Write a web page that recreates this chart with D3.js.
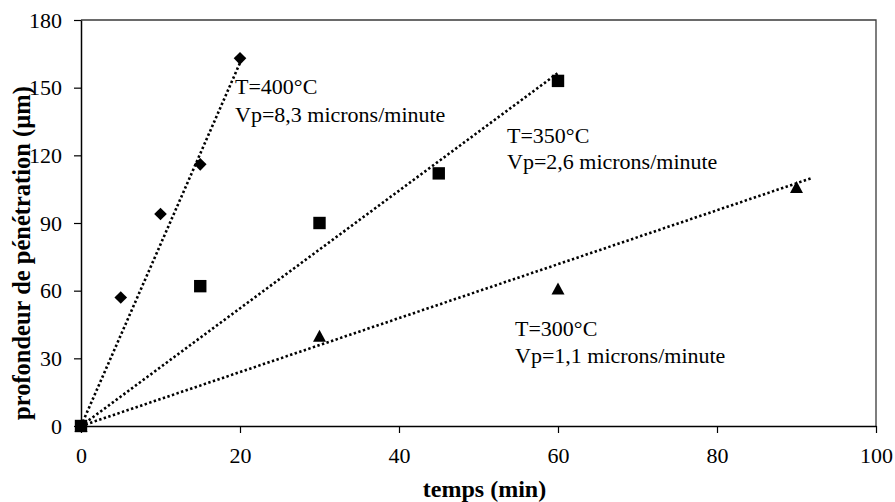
<!DOCTYPE html>
<html><head><meta charset="utf-8">
<script src="https://cdn.jsdelivr.net/npm/d3@7"></script>
<style>
html,body{margin:0;padding:0;background:#fff;}
text{font-family:"Liberation Serif","Times New Roman",serif;fill:#000;}
</style></head>
<body>
<svg id="chart" width="895" height="502"></svg>
<script>
// ---- data ----
const xTicks = [0, 20, 40, 60, 80, 100];
const yTicks = [0, 30, 60, 90, 120, 150, 180];

const time400 = [0, 5, 10, 15, 20];
const depth400 = [0, 57, 94, 116, 163];
const time350 = [0, 15, 30, 45, 60];
const depth350 = [0, 62, 90, 112, 153];
const time300 = [0, 30, 60, 90];
const depth300 = [0, 40, 61, 106];

// linear trend lines (through origin), start/end
const trendX400 = [0, 20], trendY400 = [0, 161];
const trendX350 = [0, 60], trendY350 = [0, 156.5];
const trendX300 = [0, 92], trendY300 = [0, 110];

const labels400 = ["T=400°C", "Vp=8,3 microns/minute"];
const labels350 = ["T=350°C", "Vp=2,6 microns/minute"];
const labels300 = ["T=300°C", "Vp=1,1 microns/minute"];
const xTitle = "temps (min)";
const yTitle = "profondeur de pénétration (µm)";

// ---- drawing ----
const svg = d3.select("#chart");
const L = 81, R = 876, T = 20, B = 426;
const x = d3.scaleLinear().domain([0, 100]).range([L, R]);
const y = d3.scaleLinear().domain([0, 180]).range([B, T]);

// frame (top/right)
svg.append("path")
  .attr("d", `M${L},${T}H${R}V${B}`)
  .attr("fill", "none").attr("stroke", "#3a3a3a").attr("stroke-width", 1.3);

const fs = 22;
const xAxis = svg.append("g").attr("transform", `translate(0,${B})`)
  .call(d3.axisBottom(x).tickValues(xTicks).tickSizeInner(7).tickSizeOuter(0).tickPadding(14).tickFormat(d3.format("d")));
const yAxis = svg.append("g").attr("transform", `translate(${L},0)`)
  .call(d3.axisLeft(y).tickValues(yTicks).tickSizeInner(7).tickSizeOuter(0).tickPadding(12).tickFormat(d3.format("d")));
[xAxis, yAxis].forEach(g => {
  g.select(".domain").attr("stroke", "#000").attr("stroke-width", 1.5);
  g.selectAll(".tick line").attr("stroke", "#000").attr("stroke-width", 1.2);
  g.selectAll(".tick text").style("font-family", '"Liberation Serif", serif').style("font-size", fs + "px").attr("fill", "#000");
});

// trend lines
const line = d3.line().x(d => x(d[0])).y(d => y(d[1]));
[[trendX400, trendY400], [trendX350, trendY350], [trendX300, trendY300]].forEach(([xs, ys]) => {
  svg.append("path")
    .attr("d", line(xs.map((v, i) => [v, ys[i]])))
    .attr("fill", "none").attr("stroke", "#000").attr("stroke-width", 2.6)
    .attr("stroke-dasharray", "2.4,2.4");
});

// markers
const diamond = s => `M0,${-s}L${s},0L0,${s}L${-s},0Z`;
const square = s => `M${-s},${-s}H${s}V${s}H${-s}Z`;
const triangle = (w, h) => `M0,${-h / 2}L${w / 2},${h / 2}L${-w / 2},${h / 2}Z`;

function markers(xs, ys, d) {
  svg.append("g").selectAll("path").data(xs.map((v, i) => [v, ys[i]])).join("path")
    .attr("d", d)
    .attr("transform", p => `translate(${x(p[0])},${y(p[1])})`)
    .attr("fill", "#000");
}
markers(time300, depth300, triangle(13, 12));
markers(time400, depth400, diamond(6.3));
markers(time350, depth350, square(6.2));

// annotations
function annot(lines, px, py, dy) {
  const t = svg.append("text").attr("x", px).attr("y", py).style("font-size", fs + "px");
  lines.forEach((s, i) => t.append("tspan").attr("x", px).attr("y", py + i * dy).text(s));
}
annot(labels400, 235, 94, 28);
annot(labels350, 507, 143, 26);
annot(labels300, 515, 336, 27);

// axis titles
svg.append("text").attr("x", (L + R) / 2 + 6).attr("y", 497).attr("text-anchor", "middle")
  .style("font-size", "24px").style("font-weight", "bold").text(xTitle);
svg.append("text").attr("transform", `translate(30,253) rotate(-90)`).attr("text-anchor", "middle")
  .style("font-size", "24.5px").style("font-weight", "bold").text(yTitle);
</script>
</body></html>
